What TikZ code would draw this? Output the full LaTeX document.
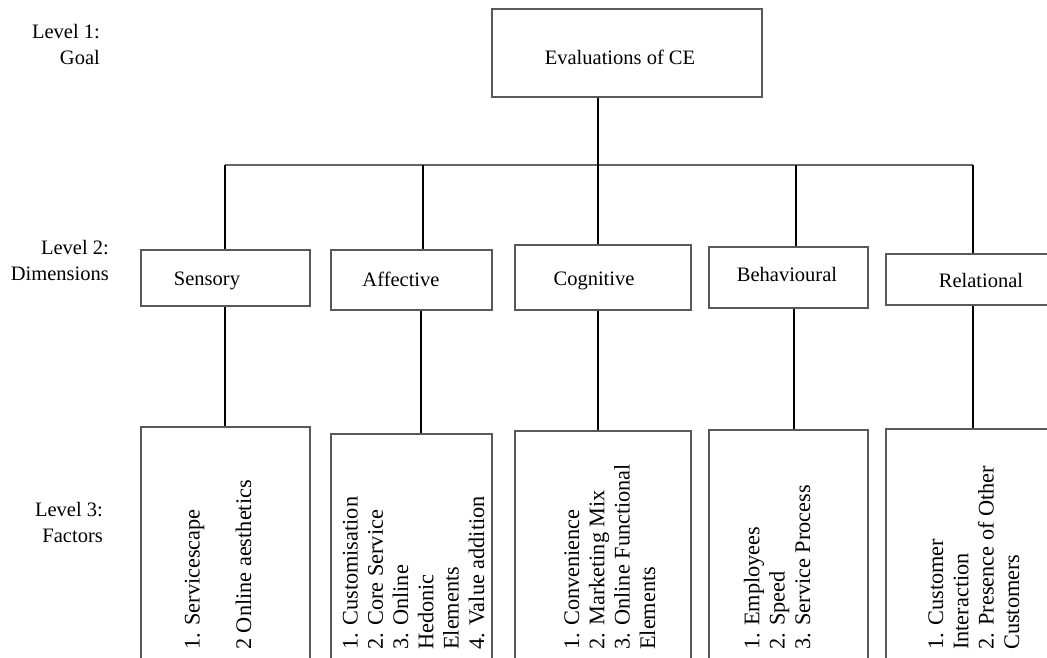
\documentclass[tikz,border=0pt]{standalone}
\usepackage{fontspec}
\setmainfont{Liberation Serif}
\begin{document}
\begin{tikzpicture}[x=1pt,y=-1pt,
  box/.style={draw=black!65, line width=1.3pt, rectangle, inner sep=0pt},
  conn/.style={draw=black, line width=2.4pt},
  hline/.style={draw=black!60, line width=1.3pt},
  lvl/.style={align=right, anchor=base east, inner sep=0pt, font=\fontsize{20.5}{26}\selectfont},
  dim/.style={anchor=base, inner sep=0pt, font=\fontsize{20.5}{25}\selectfont},
  fac/.style={rotate=90, align=left, anchor=base west, inner sep=0pt, font=\fontsize{22.3}{25.3}\selectfont}
]
\useasboundingbox (0,0) rectangle (1047,658);
\clip (0,0) rectangle (1047,658);
% level labels (anchor = baseline of last line)
\node[lvl] (l1) at (100,65) {Level 1:\\Goal};
\node[lvl] (l2) at (109,280) {Level 2:\\Dimensions};
\node[lvl] (l3) at (103,542) {Level 3:\\Factors};
% top box
\node[box, minimum width=270pt, minimum height=88pt] (top) at (627,53) {};
\node[dim] (topt) at (620,65) {Evaluations of CE};
% level 2 boxes
\node[box, minimum width=169pt, minimum height=56pt] (sen2) at (225.5,278) {};
\node[box, minimum width=161pt, minimum height=60pt] (aff2) at (411.5,280) {};
\node[box, minimum width=176pt, minimum height=65pt] (cog2) at (603,277.5) {};
\node[box, minimum width=159pt, minimum height=61pt] (beh2) at (788.5,277.5) {};
\node[box, minimum width=180pt, minimum height=51pt] (rel2) at (976,279.5) {};
\node[dim] (sen2t) at (207,285) {Sensory};
\node[dim] (aff2t) at (401,286) {Affective};
\node[dim] (cog2t) at (594,285) {Cognitive};
\node[dim] (beh2t) at (787,281) {Behavioural};
\node[dim] (rel2t) at (981,287) {Relational};
% level 3 boxes
\node[box, minimum width=169pt, minimum height=293pt] (sen3) at (225.5,573.5) {};
\node[box, minimum width=161pt, minimum height=286pt] (aff3) at (411.5,577) {};
\node[box, minimum width=176pt, minimum height=289pt] (cog3) at (603,575.5) {};
\node[box, minimum width=159pt, minimum height=290pt] (beh3) at (788.5,575) {};
\node[box, minimum width=180pt, minimum height=291pt] (rel3) at (976,574.5) {};
% level 3 texts (anchor = baseline of last line, start of text)
\node[fac] (sen3t) at (251,650) {1. Servicescape\\[26pt]2 Online aesthetics};
\node[fac] (aff3t) at (484,650) {1. Customisation\\2. Core Service\\3. Online\\Hedonic\\Elements\\4. Value addition};
\node[fac] (cog3t) at (655,650) {1. Convenience\\2. Marketing Mix\\3. Online Functional\\Elements};
\node[fac] (beh3t) at (810,650) {1. Employees\\2. Speed\\3. Service Process};
\node[fac] (rel3t) at (1019,650) {1. Customer\\Interaction\\2. Presence of Other\\Customers};
% connector positions
\coordinate (bS) at (225,165);
\coordinate (bA) at (423,165);
\coordinate (bC) at (598,165);
\coordinate (bB) at (796,165);
\coordinate (bR) at (973,165);
\coordinate (cA) at (421,0);
\coordinate (cB) at (794,0);
% bar
\draw[hline] (bS) -- (bR);
% top to cognitive
\draw[conn] (top.south -| bC) -- (cog2.north -| bC);
% bar to level 2
\draw[conn] (bS) -- (bS |- sen2.north);
\draw[conn] (bA) -- (bA |- aff2.north);
\draw[conn] (bB) -- (bB |- beh2.north);
\draw[conn] (bR) -- (bR |- rel2.north);
% level 2 to level 3
\draw[conn] (sen2.south -| bS) -- (sen3.north -| bS);
\draw[conn] (aff2.south -| cA) -- (aff3.north -| cA);
\draw[conn] (cog2.south -| bC) -- (cog3.north -| bC);
\draw[conn] (beh2.south -| cB) -- (beh3.north -| cB);
\draw[conn] (rel2.south -| bR) -- (rel3.north -| bR);
\end{tikzpicture}
\end{document}
